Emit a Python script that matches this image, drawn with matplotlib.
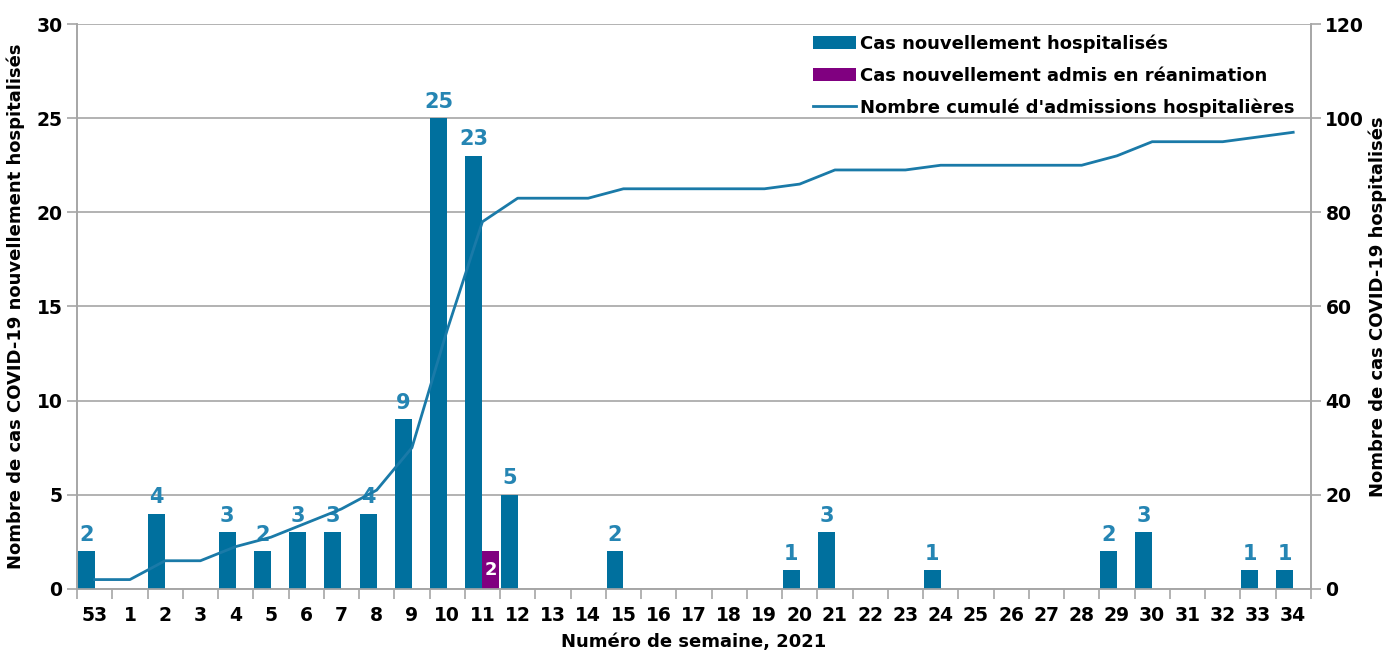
import numpy as np
import matplotlib.pyplot as plt

# weeks 53 (2020) then 1..34 (2021)
weeks = ['53'] + [str(w) for w in range(1, 35)]
hospitalises = [2, 0, 4, 0, 3, 2, 3, 3, 4, 9, 25, 23, 5, 0, 0, 2, 0, 0, 0, 0,
                1, 3, 0, 0, 1, 0, 0, 0, 0, 2, 3, 0, 0, 1, 1]
reanimation = [0] * 11 + [2] + [0] * 23
cumul = [2, 2, 6, 6, 9, 11, 14, 17, 21, 30, 55, 78, 83, 83, 83, 85, 85, 85, 85, 85,
         86, 89, 89, 89, 90, 90, 90, 90, 90, 92, 95, 95, 95, 96, 97]

bar_blue = '#00709E'
label_blue = '#2585B3'
purple = '#800080'
grid_grey = '#A6A6A6'

plt.rcParams['font.family'] = ['DejaVu Sans']

fig = plt.figure(figsize=(13.93, 6.54), dpi=100)
ax = fig.add_axes([0.0553, 0.0994, 0.8857, 0.8639])
ax2 = ax.twinx()

x = np.arange(len(weeks))
w = 0.48
ax.bar(x - w / 2, hospitalises, width=w, color=bar_blue, zorder=3,
       label='Cas nouvellement hospitalisés')
ax.bar(x + w / 2, reanimation, width=w, color=purple, zorder=3,
       label='Cas nouvellement admis en réanimation')

for i, v in enumerate(hospitalises):
    if v > 0:
        ax.text(x[i] - w / 2, v + 0.35, str(v), ha='center', va='bottom',
                fontsize=15, fontweight='bold', color=label_blue, zorder=5)
for i, v in enumerate(reanimation):
    if v > 0:
        ax.text(x[i] + w / 2, v / 2, str(v), ha='center', va='center',
                fontsize=13, fontweight='bold', color='white', zorder=5)

ax2.plot(x, cumul, color='#1A7AA8', lw=2, zorder=4,
         label="Nombre cumulé d'admissions hospitalières")

ax.set_xlim(-0.5, len(weeks) - 0.5)
ax.set_ylim(0, 30)
ax2.set_ylim(0, 120)
ax.set_yticks(range(0, 31, 5))
ax2.set_yticks(range(0, 121, 20))
ax.yaxis.grid(True, color=grid_grey, lw=1.2, zorder=0)
ax.set_axisbelow(True)

ax.set_xticks(x)
ax.set_xticklabels(weeks)
ax.set_xticks(np.arange(-0.5, len(weeks), 1), minor=True)
ax.tick_params(axis='x', which='major', length=0, pad=12, labelsize=13.5)
ax.tick_params(axis='x', which='minor', length=7, color=grid_grey, width=1.2)
ax.tick_params(axis='y', length=7, color=grid_grey, width=1.2, labelsize=13.5)
ax2.tick_params(axis='y', length=7, color=grid_grey, width=1.2, labelsize=13.5)
for lab in ax.get_xticklabels() + ax.get_yticklabels() + ax2.get_yticklabels():
    lab.set_fontweight('bold')

for a in (ax, ax2):
    for s in a.spines.values():
        s.set_color(grid_grey)
        s.set_linewidth(1.2)
    a.spines['top'].set_visible(False)

ax.set_xlabel('Numéro de semaine, 2021', fontsize=13, fontweight='bold', labelpad=6)
ax.set_ylabel('Nombre de cas COVID-19 nouvellement hospitalisés', fontsize=13,
              fontweight='bold', labelpad=8)
ax2.set_ylabel('Nombre de cas COVID-19 hospitalisés', fontsize=13,
               fontweight='bold', labelpad=3)

h1, l1 = ax.get_legend_handles_labels()
h2, l2 = ax2.get_legend_handles_labels()
leg = ax2.legend(h1 + h2, l1 + l2, loc='upper right', bbox_to_anchor=(1.0, 1.01),
                 frameon=False, handlelength=2.4, handletextpad=0.2,
                 labelspacing=0.75, prop={'weight': 'bold', 'size': 13})

fig.savefig('out.png', dpi=100)
